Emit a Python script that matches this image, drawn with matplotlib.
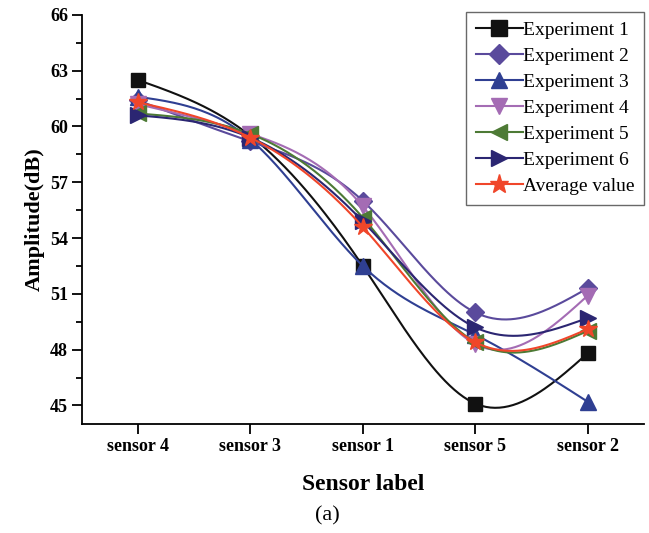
import numpy as np
import matplotlib
matplotlib.use("Agg")
import matplotlib.pyplot as plt
from matplotlib.ticker import MultipleLocator

plt.rcParams['font.family'] = ['Liberation Serif', 'DejaVu Serif']

sensors = ['sensor 4', 'sensor 3', 'sensor 1', 'sensor 5', 'sensor 2']
exp1 = [62.5, 59.5, 52.5, 45.1, 47.8]
exp2 = [61.4, 59.2, 56.0, 50.0, 51.3]
exp3 = [61.6, 59.3, 52.5, 48.8, 45.2]
exp4 = [61.2, 59.6, 55.7, 48.3, 50.9]
exp5 = [60.7, 59.6, 55.1, 48.4, 49.0]
exp6 = [60.6, 59.4, 54.9, 49.2, 49.7]
average = [61.3, 59.4, 54.6, 48.4, 49.1]

series = [
    ('Experiment 1', exp1, '#111111', 's', 10),
    ('Experiment 2', exp2, '#5a4a9c', 'D', 9),
    ('Experiment 3', exp3, '#2f3f92', '^', 11),
    ('Experiment 4', exp4, '#a46cb4', 'v', 11),
    ('Experiment 5', exp5, '#4d7a35', '<', 11),
    ('Experiment 6', exp6, '#2b2672', '>', 11),
    ('Average value', average, '#f0462a', '*', 13),
]


def natural_spline(x, y, n=200):
    # natural cubic spline through the points, used only to draw a smooth line
    x = np.asarray(x, float)
    y = np.asarray(y, float)
    k = len(x)
    h = np.diff(x)
    A = np.zeros((k, k))
    b = np.zeros(k)
    A[0, 0] = A[-1, -1] = 1
    for i in range(1, k - 1):
        A[i, i - 1] = h[i - 1]
        A[i, i] = 2 * (h[i - 1] + h[i])
        A[i, i + 1] = h[i]
        b[i] = 6 * ((y[i + 1] - y[i]) / h[i] - (y[i] - y[i - 1]) / h[i - 1])
    m = np.linalg.solve(A, b)
    xs = np.linspace(x[0], x[-1], n)
    idx = np.clip(np.searchsorted(x, xs) - 1, 0, k - 2)
    x0, x1 = x[idx], x[idx + 1]
    hh = x1 - x0
    t0, t1 = x1 - xs, xs - x0
    ys = (m[idx] * t0**3 / (6 * hh) + m[idx + 1] * t1**3 / (6 * hh)
          + (y[idx] / hh - m[idx] * hh / 6) * t0
          + (y[idx + 1] / hh - m[idx + 1] * hh / 6) * t1)
    return xs, ys


fig = plt.figure(figsize=(6.49, 5.33), dpi=100)
ax = fig.add_axes([0.126, 0.2045, 0.866, 0.7675])

x = np.arange(len(sensors))
for name, vals, color, marker, ms in series:
    xs, ys = natural_spline(x, vals)
    ax.plot(xs, ys, color=color, lw=1.5)
    ax.plot(x, vals, linestyle='none', marker=marker, color=color, ms=ms,
            markeredgecolor=color)
    ax.plot([], [], color=color, lw=1.5, marker=marker, ms=ms + 1, label=name)

ax.set_xlim(-0.5, 4.5)
ax.set_ylim(44, 66)
ax.set_xticks(x)
ax.set_xticklabels(sensors)
ax.yaxis.set_major_locator(MultipleLocator(3))
ax.yaxis.set_minor_locator(MultipleLocator(1.5))
ax.spines['top'].set_visible(False)
ax.spines['right'].set_visible(False)
for s in ('left', 'bottom'):
    ax.spines[s].set_linewidth(1.3)
ax.tick_params(axis='both', direction='out', width=1.3, length=7, labelsize=13,
               pad=3)
ax.tick_params(axis='y', which='minor', direction='out', width=1.3, length=4)
for lbl in ax.get_xticklabels() + ax.get_yticklabels():
    lbl.set_fontweight('bold')

ax.set_ylabel('Amplitude(dB)', fontsize=16, fontweight='bold', labelpad=4)
ax.set_xlabel('Sensor label', fontsize=17, fontweight='bold', labelpad=14)

leg = ax.legend(loc='upper right', bbox_to_anchor=(1.0, 1.008), fontsize=14,
                frameon=True, fancybox=False, edgecolor='#444444',
                handlelength=2.4, handletextpad=0.0, borderpad=0.5,
                labelspacing=0.43, borderaxespad=0.0)
leg.get_frame().set_linewidth(1.0)

fig.text(0.504, 0.024, '(a)', ha='center', fontsize=16)

fig.savefig('out.png', dpi=100)
